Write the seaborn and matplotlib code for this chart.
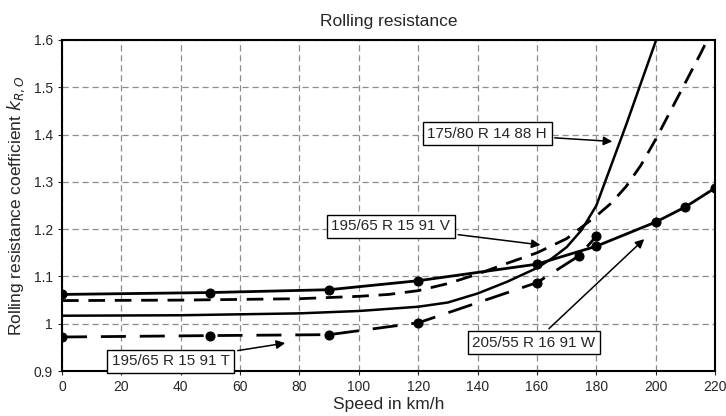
import matplotlib
matplotlib.use("Agg")
import matplotlib.pyplot as plt
import seaborn as sns
import pandas as pd

# speed in km/h and rolling resistance coefficient k_R,O per tyre
speed_w = [0, 50, 90, 120, 160, 180, 200, 210, 220]
k_w = [1.062, 1.066, 1.072, 1.091, 1.126, 1.164, 1.215, 1.247, 1.287]

speed_t = [0, 50, 90, 120, 160, 174, 180]
k_t = [0.972, 0.975, 0.977, 1.002, 1.087, 1.143, 1.185]

speed_h = [0, 40, 80, 100, 120, 130, 140, 150, 160, 165, 170, 175, 180, 185, 190, 201]
k_h = [1.017, 1.018, 1.022, 1.027, 1.036, 1.045, 1.064, 1.089, 1.118, 1.138,
       1.162, 1.198, 1.250, 1.335, 1.420, 1.615]

speed_v = [0, 40, 80, 100, 110, 120, 130, 140, 150, 160, 170, 180, 185, 190,
           195, 200, 205, 210, 215, 219]
k_v = [1.049, 1.050, 1.053, 1.058, 1.062, 1.070, 1.085, 1.105, 1.128, 1.150,
       1.180, 1.228, 1.255, 1.290, 1.335, 1.390, 1.450, 1.510, 1.570, 1.620]

x_ticks = list(range(0, 221, 20))
y_ticks = [0.9, 1.0, 1.1, 1.2, 1.3, 1.4, 1.5, 1.6]
y_labels = ["0.9", "1", "1.1", "1.2", "1.3", "1.4", "1.5", "1.6"]

sns.set_style("white")
plt.rcParams['font.family'] = ['Liberation Sans', 'DejaVu Sans']

fig = plt.figure(figsize=(7.26, 4.16), dpi=100)
ax = fig.add_axes([0.0854, 0.108, 0.8996, 0.796])

df_w = pd.DataFrame({'speed': speed_w, 'k': k_w})
df_t = pd.DataFrame({'speed': speed_t, 'k': k_t})
df_h = pd.DataFrame({'speed': speed_h, 'k': k_h})
df_v = pd.DataFrame({'speed': speed_v, 'k': k_v})

sns.lineplot(x='speed', y='k', data=df_h, ax=ax, color='black', lw=1.8)
sns.lineplot(x='speed', y='k', data=df_v, ax=ax, color='black', lw=2,
             linestyle=(0, (6, 3.5)))
sns.lineplot(x='speed', y='k', data=df_w, ax=ax, color='black', lw=2,
             marker='o', markersize=6.5, markeredgecolor='black')
sns.lineplot(x='speed', y='k', data=df_t, ax=ax, color='black', lw=2,
             linestyle=(0, (9, 5)), marker='o', markersize=6.5,
             markeredgecolor='black')

ax.set_xlim(0, 220)
ax.set_ylim(0.9, 1.6)
ax.set_xticks(x_ticks)
ax.set_yticks(y_ticks)
ax.set_yticklabels(y_labels)
ax.tick_params(labelsize=10, length=3, direction='out', left=True, bottom=True)
ax.grid(True, color='#8c8c8c', linestyle=(0, (5, 3)), lw=0.9)
for s in ax.spines.values():
    s.set_color('black')
    s.set_linewidth(1.5)

ax.set_title('Rolling resistance', fontsize=12.5, pad=10)
ax.set_xlabel('Speed in km/h', fontsize=12.5, labelpad=2)
ax.set_ylabel(r'Rolling resistance coefficient $k_{R,O}$', fontsize=12.5, labelpad=5)

box = dict(boxstyle='square,pad=0.3', fc='white', ec='black', lw=1)
arrow = dict(arrowstyle='-|>', color='black', lw=1.1, mutation_scale=13)

ax.annotate('175/80 R 14 88 H', xy=(186.3, 1.385), xytext=(143.2, 1.402),
            ha='center', va='center', fontsize=11, bbox=box, arrowprops=arrow)
ax.annotate('195/65 R 15 91 V', xy=(162.1, 1.166), xytext=(110.8, 1.206),
            ha='center', va='center', fontsize=11, bbox=box, arrowprops=arrow)
ax.annotate('195/65 R 15 91 T', xy=(76.1, 0.96), xytext=(36.7, 0.921),
            ha='center', va='center', fontsize=11, bbox=box, arrowprops=arrow)
ax.annotate('205/55 R 16 91 W', xy=(196.8, 1.183), xytext=(159.0, 0.96),
            ha='center', va='center', fontsize=11, bbox=box, arrowprops=arrow)

fig.savefig('out.png', dpi=100)
